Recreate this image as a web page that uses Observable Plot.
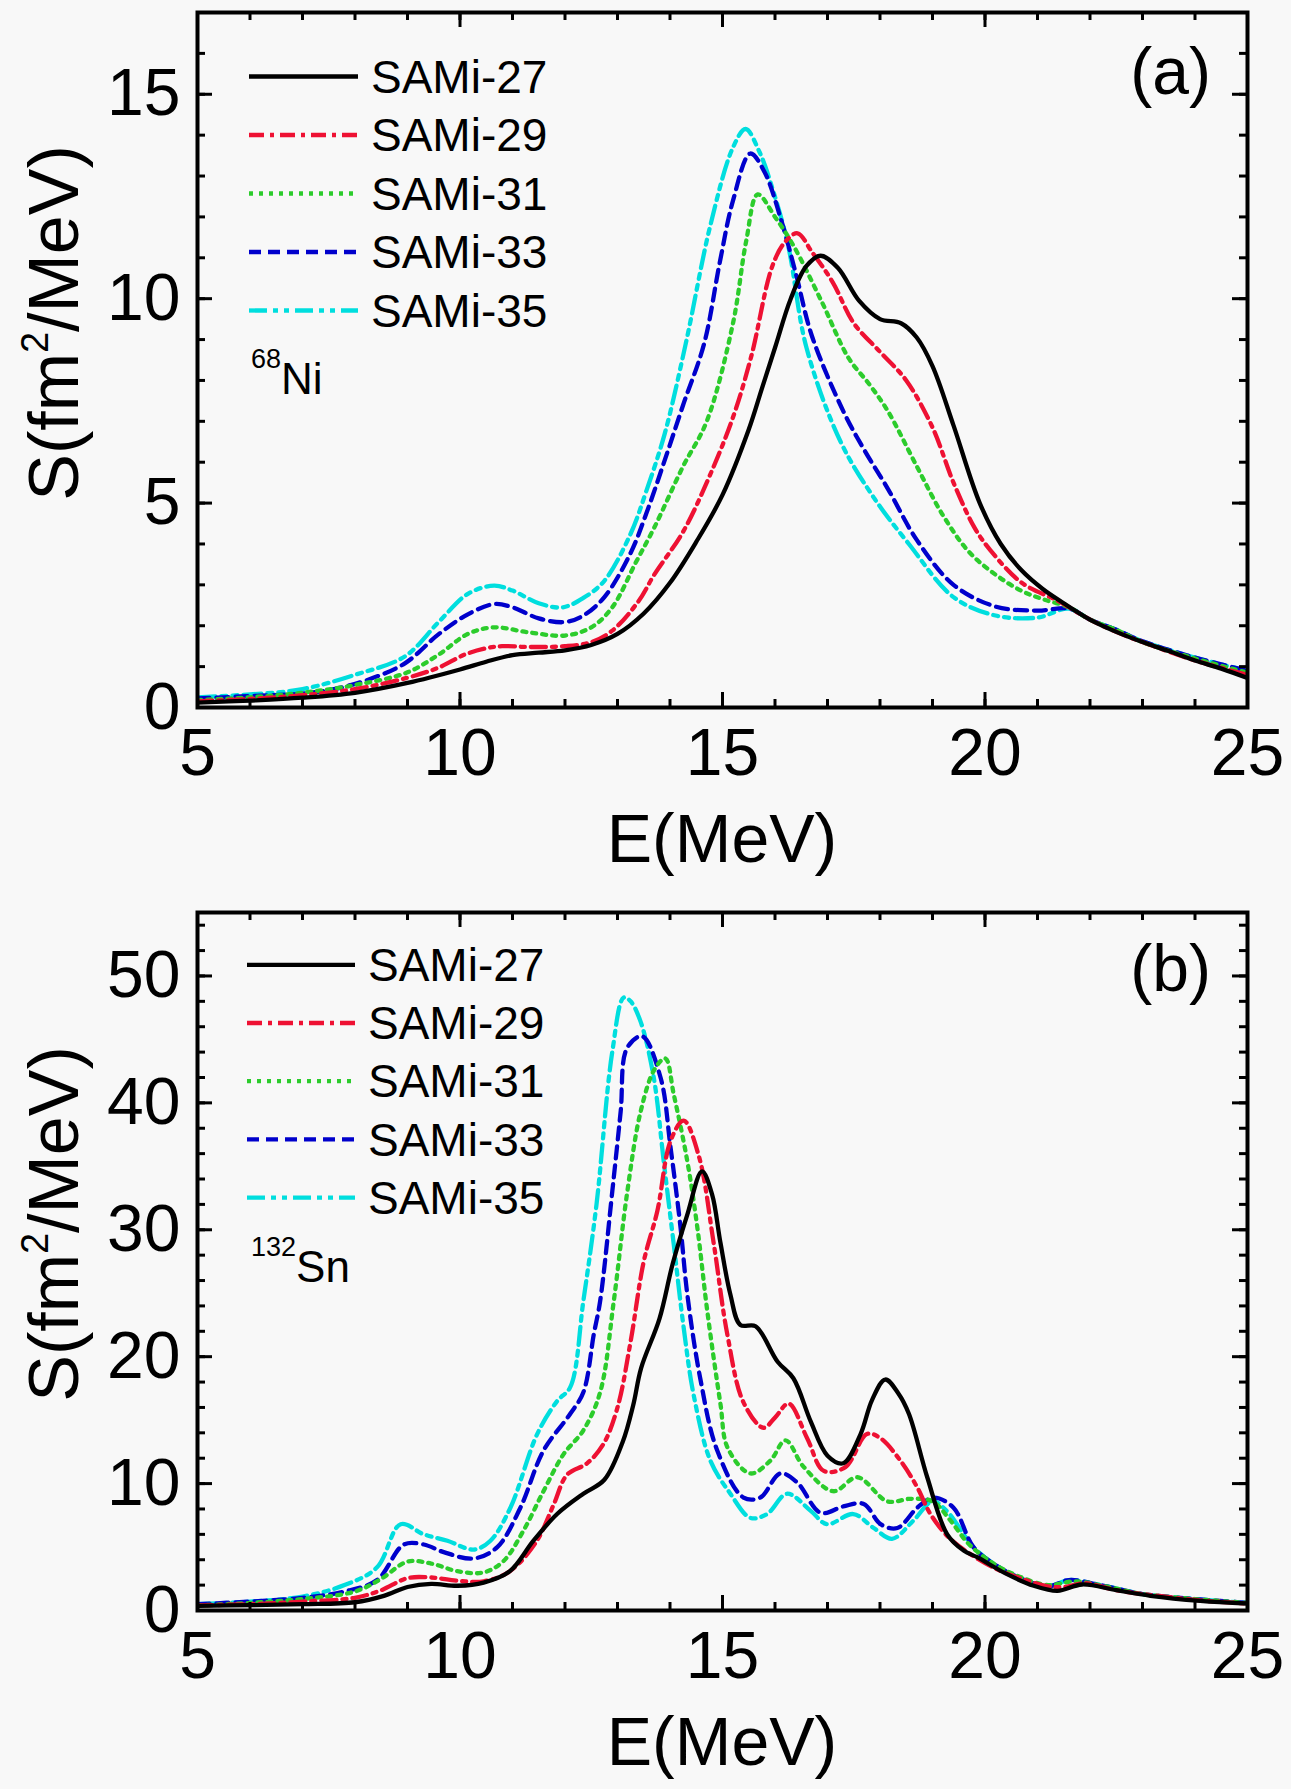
<!DOCTYPE html>
<html>
<head>
<meta charset="utf-8">
<script src="https://cdn.jsdelivr.net/npm/d3@7"></script>
<script src="https://cdn.jsdelivr.net/npm/@observablehq/plot@0.6"></script>
<style>
html, body { margin: 0; padding: 0; background: #f8f8f8; }
#chart { width: 1291px; }
#chart svg { display: block; }
</style>
</head>
<body>
<div id="chart"></div>
<script>
// ---------- series meta ----------
const seriesNames = ["SAMi-27", "SAMi-29", "SAMi-31", "SAMi-33", "SAMi-35"];
const seriesColors = ["#000000", "#ee1133", "#2ccc2c", "#0000cc", "#00dede"];
const seriesDash = [null, "15 6 4 6", "4 6", "12 7", "18 6 5 6 5 6"];

// ---------- ticks ----------
const xMajor = [5, 10, 15, 20, 25];
const xMinor = d3.range(5, 25.01, 1);
const yMajorA = [0, 5, 10, 15];
const yMinorA = d3.range(0, 17.01, 1);
const yMajorB = [0, 10, 20, 30, 40, 50];
const yMinorB = d3.range(0, 55.01, 2);

// ---------- panel (a): 68Ni, [E (MeV), S (fm^2/MeV)] ----------
const ni27 = [[5,0.12],[6,0.17],[7,0.24],[8,0.36],[9,0.6],[10,0.93],[10.5,1.12],[11,1.28],[11.5,1.34],[12,1.4],[12.5,1.53],[13,1.8],[13.5,2.3],[14,3.05],[14.5,4.05],[15,5.2],[15.5,6.8],[15.75,7.8],[16,8.8],[16.3,10.0],[16.6,10.8],[16.87,11.05],[17.2,10.75],[17.6,9.95],[18,9.5],[18.4,9.4],[18.7,9.05],[19,8.35],[19.4,6.9],[19.9,5.0],[20.3,4.0],[20.7,3.35],[21.1,2.9],[21.5,2.55],[22,2.15],[22.5,1.85],[23,1.6],[23.5,1.38],[24,1.15],[24.5,0.95],[25,0.72]];
const ni29 = [[5,0.15],[6,0.21],[7,0.3],[8,0.45],[9,0.73],[9.6,0.98],[10.1,1.3],[10.5,1.45],[10.8,1.5],[11.3,1.48],[12,1.5],[12.5,1.6],[12.9,1.88],[13.4,2.6],[13.7,3.25],[14.25,4.3],[14.75,5.65],[15.2,7.1],[15.55,8.6],[15.95,10.8],[16.2,11.4],[16.43,11.6],[16.7,11.15],[17.1,10.4],[17.5,9.4],[18,8.7],[18.5,8.0],[19,6.85],[19.4,5.5],[19.8,4.4],[20.1,3.85],[20.7,3.05],[21.4,2.6],[22,2.15],[22.5,1.85],[23,1.6],[24,1.15],[25,0.8]];
const ni31 = [[5,0.18],[6,0.25],[7,0.36],[8,0.55],[9,0.86],[9.6,1.3],[10.15,1.8],[10.65,1.96],[11.3,1.84],[12,1.76],[12.5,1.96],[12.9,2.45],[13.35,3.55],[13.7,4.4],[14.25,5.9],[14.7,7.0],[15.2,9.4],[15.45,11.4],[15.67,12.55],[16,12.0],[16.35,11.3],[16.9,9.9],[17.4,8.55],[17.8,7.9],[18.15,7.25],[18.7,5.9],[19.2,4.7],[19.7,3.8],[20.2,3.25],[20.7,2.85],[21.1,2.65],[21.6,2.45],[22,2.15],[22.5,1.9],[23,1.6],[24,1.2],[25,0.85]];
const ni33 = [[5,0.22],[6,0.28],[7,0.34],[7.6,0.45],[8.25,0.68],[8.95,1.08],[9.6,1.8],[10.15,2.28],[10.65,2.53],[11,2.45],[11.5,2.18],[12,2.09],[12.35,2.25],[12.75,2.7],[13.25,3.78],[13.55,4.75],[13.9,6.05],[14.25,7.4],[14.65,8.9],[14.95,10.9],[15.2,12.4],[15.53,13.55],[15.8,13.1],[16.1,12.0],[16.4,10.6],[16.7,9.1],[17.3,7.25],[17.7,6.3],[18.15,5.35],[18.7,4.1],[19.4,3.0],[20.2,2.47],[21,2.37],[21.6,2.42],[22,2.15],[22.5,1.9],[23,1.62],[24,1.22],[25,0.9]];
const ni35 = [[5,0.25],[6,0.32],[7,0.45],[8,0.8],[8.95,1.25],[9.6,2.1],[10.15,2.78],[10.65,2.98],[11,2.86],[11.5,2.55],[11.95,2.45],[12.35,2.68],[12.75,3.1],[13.25,4.25],[13.55,5.3],[13.9,6.7],[14.3,8.9],[14.77,11.8],[15.2,13.7],[15.44,14.15],[15.7,13.6],[15.95,12.7],[16.25,11.3],[16.6,8.8],[17.25,6.5],[17.9,5.1],[18.55,4.0],[19.4,2.7],[20.2,2.25],[21,2.2],[21.6,2.42],[22,2.15],[22.5,1.9],[23,1.62],[24,1.22],[25,0.9]];

// ---------- panel (b): 132Sn ----------
const sn27 = [[5,0.37],[6,0.42],[7,0.5],[8,0.65],[8.55,1.15],[9,1.85],[9.45,2.1],[9.95,1.95],[10.45,2.2],[10.95,3.1],[11.4,5.5],[11.85,7.6],[12.35,9.2],[12.75,10.3],[13.1,13.3],[13.3,16.2],[13.45,19.1],[13.8,23.0],[14.05,27.3],[14.33,31.2],[14.61,34.6],[14.8,32.8],[14.96,29.0],[15.15,24.9],[15.34,22.5],[15.63,22.4],[16.05,19.6],[16.35,18.3],[16.68,14.9],[17.0,12.2],[17.3,11.6],[17.63,13.9],[17.85,16.6],[18.1,18.2],[18.35,17.1],[18.55,15.5],[18.9,10.5],[19.28,6.0],[19.6,4.7],[19.85,4.2],[20.4,2.9],[20.93,1.95],[21.38,1.55],[21.85,2.05],[22.5,1.6],[23.15,1.16],[24.1,0.76],[25,0.55]];
const sn29 = [[5,0.4],[6,0.5],[7,0.7],[8,1.0],[8.5,1.6],[9,2.55],[9.45,2.6],[9.95,2.35],[10.45,2.3],[10.95,3.1],[11.45,5.4],[11.78,8.3],[12.04,10.7],[12.42,11.6],[12.73,13.1],[13.0,16.0],[13.25,21.2],[13.5,27.5],[13.76,31.5],[14.01,37.0],[14.26,38.6],[14.55,35.8],[14.83,29.0],[15.09,21.8],[15.4,16.4],[15.78,14.4],[16.0,15.2],[16.26,16.3],[16.61,13.6],[16.93,11.0],[17.34,11.3],[17.75,13.9],[18.0,13.6],[18.39,11.8],[18.71,9.7],[18.96,7.6],[19.3,5.8],[19.7,4.5],[20.2,3.3],[20.7,2.5],[21.2,1.9],[21.5,1.85],[21.9,2.15],[22.5,1.6],[23.2,1.2],[24.1,0.8],[25,0.55]];
const sn31 = [[5,0.4],[6,0.6],[7,0.9],[8,1.5],[8.5,2.5],[9,3.85],[9.45,3.7],[9.95,3.1],[10.45,3.0],[10.83,3.9],[11.21,6.3],[11.59,9.4],[11.97,12.3],[12.35,14.2],[12.67,17.2],[12.93,24.4],[13.18,32.8],[13.44,39.3],[13.7,42.6],[13.91,43.5],[14.07,40.7],[14.33,35.4],[14.52,30.2],[14.71,23.6],[14.96,16.3],[15.1,12.8],[15.53,10.8],[15.91,11.8],[16.2,13.4],[16.55,11.3],[17.11,9.4],[17.57,10.5],[18.14,8.6],[18.58,8.8],[19.0,8.6],[19.34,7.1],[19.7,5.2],[20.2,3.6],[20.7,2.6],[21.2,2.0],[21.7,2.3],[22.3,1.9],[23,1.3],[24,0.9],[25,0.6]];
const sn33 = [[5,0.5],[6,0.7],[7,1.0],[7.8,1.5],[8.42,2.4],[8.93,5.2],[9.31,5.2],[9.69,4.6],[10.26,4.1],[10.71,5.0],[11.15,8.1],[11.59,12.6],[12.1,15.5],[12.35,17.2],[12.55,21.8],[12.67,24.4],[12.9,33.0],[13.06,39.3],[13.18,44.3],[13.47,45.25],[13.82,42.0],[14.01,36.5],[14.2,30.2],[14.33,24.9],[14.58,18.2],[14.9,12.6],[15.4,8.9],[15.72,8.9],[16.1,10.8],[16.42,10.1],[16.87,7.7],[17.3,8.2],[17.69,8.4],[18.01,6.8],[18.33,6.5],[18.71,8.1],[19.02,8.9],[19.4,8.1],[19.78,5.0],[20.23,3.5],[20.7,2.5],[21.2,1.9],[21.6,2.4],[22.2,2.0],[23,1.3],[24,0.9],[25,0.6]];
const sn35 = [[5,0.5],[6,0.7],[7,1.1],[7.8,2.0],[8.42,3.4],[8.87,6.8],[9.31,6.0],[9.76,5.5],[10.26,4.8],[10.58,5.5],[10.96,8.1],[11.47,13.9],[11.85,16.5],[12.1,17.6],[12.35,24.4],[12.6,32.0],[12.9,44.0],[13.12,48.3],[13.25,48.0],[13.44,46.4],[13.69,42.0],[13.88,35.4],[14.07,28.9],[14.26,22.3],[14.45,17.0],[14.77,11.8],[15.15,9.2],[15.53,7.3],[15.85,7.6],[16.23,9.2],[16.68,7.85],[16.99,6.8],[17.49,7.6],[17.88,6.5],[18.23,5.65],[18.64,7.1],[19.0,8.6],[19.28,7.8],[19.78,5.0],[20.23,3.5],[20.7,2.5],[21.2,1.9],[21.6,2.4],[22.2,2.0],[23,1.3],[24,0.9],[25,0.6]];

const FONT = "'Liberation Sans', Arial, Helvetica, sans-serif";
const W = 1291, ML = 197, MR = 44;
const PW = W - ML - MR;
const LW = 4.3;

function panel(cfg) {
  const PH = cfg.height - cfg.mt - cfg.mb;
  const lines = [];
  // draw in reverse so black lies on top
  for (let i = cfg.data.length - 1; i >= 0; i--) {
    const rows = cfg.data[i].map(([E, S]) => ({E, S}));
    const opt = {x: "E", y: "S", stroke: seriesColors[i], strokeWidth: LW, curve: "catmull-rom", clip: true};
    if (seriesDash[i]) opt.strokeDasharray = seriesDash[i];
    lines.push(Plot.line(rows, opt));
  }
  const svg = Plot.plot({
    width: W, height: cfg.height,
    marginLeft: ML, marginRight: MR, marginTop: cfg.mt, marginBottom: cfg.mb,
    style: {fontFamily: FONT, background: "transparent", overflow: "visible", color: "#000"},
    x: {domain: [5, 25]},
    y: {domain: cfg.yDomain},
    marks: [
      ...lines,
      // inward ticks: bottom & top
      Plot.tickX(xMinor, {x: d => d, insetTop: PH - 8, stroke: "#000", strokeWidth: 3}),
      Plot.tickX(xMajor, {x: d => d, insetTop: PH - 15, stroke: "#000", strokeWidth: 3}),
      Plot.tickX(xMinor, {x: d => d, insetBottom: PH - 8, stroke: "#000", strokeWidth: 3}),
      Plot.tickX(xMajor, {x: d => d, insetBottom: PH - 15, stroke: "#000", strokeWidth: 3}),
      // inward ticks: left & right
      Plot.tickY(cfg.yMinor, {y: d => d, insetRight: PW - 8, stroke: "#000", strokeWidth: 3}),
      Plot.tickY(cfg.yMajor, {y: d => d, insetRight: PW - 15, stroke: "#000", strokeWidth: 3}),
      Plot.tickY(cfg.yMinor, {y: d => d, insetLeft: PW - 8, stroke: "#000", strokeWidth: 3}),
      Plot.tickY(cfg.yMajor, {y: d => d, insetLeft: PW - 15, stroke: "#000", strokeWidth: 3}),
      Plot.frame({stroke: "#000", strokeWidth: 4}),
      Plot.axisX({ticks: xMajor, tickSize: 0, tickPadding: 21, fontSize: 66, label: null}),
      Plot.axisY({ticks: cfg.yMajor, tickSize: 0, tickPadding: 17, fontSize: 66, label: null})
    ]
  });

  const s = d3.select(svg);
  const g = s.append("g").attr("font-family", FONT).attr("fill", "#000").attr("text-anchor", "start");

  // y-axis title with superscript
  const yt = g.append("text")
    .attr("transform", `translate(78,${cfg.yTitleCenter}) rotate(-90)`)
    .attr("text-anchor", "middle").attr("font-size", 70);
  yt.append("tspan").text("S(fm");
  yt.append("tspan").attr("font-size", 38).attr("dy", -30).text("2");
  yt.append("tspan").attr("dy", 30).text("/MeV)");

  // x-axis title
  g.append("text").attr("x", ML + PW / 2).attr("y", cfg.mt + PH + 155)
    .attr("text-anchor", "middle").attr("font-size", 68).text("E(MeV)");

  // panel label
  g.append("text").attr("x", 1211).attr("y", cfg.labelY)
    .attr("text-anchor", "end").attr("font-size", 66).text(cfg.label);

  // legend
  seriesNames.forEach((name, i) => {
    const y = cfg.legendY0 + i * cfg.legendStep;
    const ln = g.append("line").attr("x1", cfg.legendX1).attr("x2", cfg.legendX2)
      .attr("y1", y).attr("y2", y)
      .attr("stroke", seriesColors[i]).attr("stroke-width", LW);
    if (seriesDash[i]) ln.attr("stroke-dasharray", seriesDash[i]);
    g.append("text").attr("x", cfg.legendX2 + 13).attr("y", y).attr("dy", "0.35em")
      .attr("text-anchor", "start").attr("font-size", 46).text(name);
  });

  // nucleus label
  const nt = g.append("text").attr("x", 251).attr("y", cfg.nucY).attr("text-anchor", "start");
  nt.append("tspan").attr("font-size", 27).attr("dy", -26).text(cfg.mass);
  nt.append("tspan").attr("font-size", 44).attr("dy", 26).text(cfg.sym);

  return svg;
}

const chart = document.getElementById("chart");
chart.appendChild(panel({
  data: [ni27, ni29, ni31, ni33, ni35],
  height: 895, mt: 12, mb: 188,
  yDomain: [0, 17], yMajor: yMajorA, yMinor: yMinorA,
  yTitleCenter: 323, label: "(a)", labelY: 94,
  legendY0: 76.5, legendStep: 58.5, legendX1: 249, legendX2: 358,
  mass: "68", sym: "Ni", nucY: 394
}));
chart.appendChild(panel({
  data: [sn27, sn29, sn31, sn33, sn35],
  height: 894, mt: 17, mb: 179,
  yDomain: [0, 55], yMajor: yMajorB, yMinor: yMinorB,
  yTitleCenter: 329, label: "(b)", labelY: 96,
  legendY0: 69.8, legendStep: 58.2, legendX1: 247, legendX2: 355,
  mass: "132", sym: "Sn", nucY: 387
}));
</script>
</body>
</html>
